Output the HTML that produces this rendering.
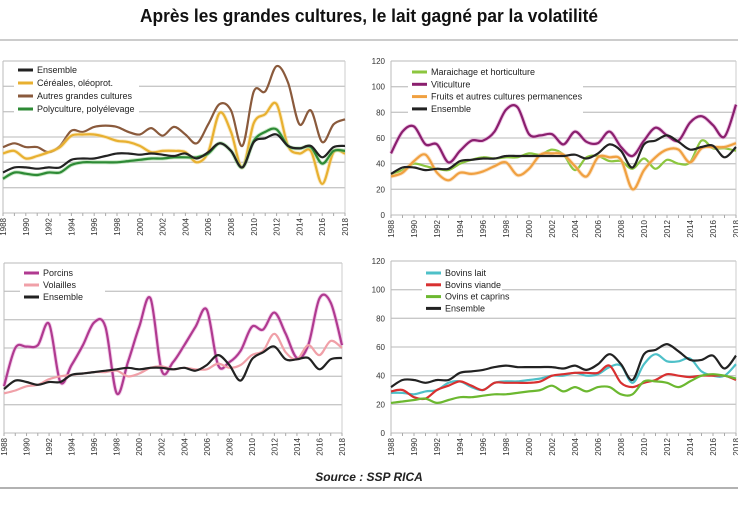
<!DOCTYPE html>
<html><head><meta charset="utf-8"><style>
body{margin:0;background:#fff;width:738px;height:507px;overflow:hidden}
svg{display:block}
text{font-family:"Liberation Sans Narrow","Liberation Sans",sans-serif}
</style></head><body>
<svg id="s" width="738" height="507" viewBox="0 0 738 507" xmlns="http://www.w3.org/2000/svg">
<text x="369" y="22" text-anchor="middle" font-size="18" font-weight="bold" fill="#111" textLength="458" lengthAdjust="spacingAndGlyphs">Après les grandes cultures, le lait gagné par la volatilité</text>
<line x1="0" y1="40" x2="738" y2="40" stroke="#bbb" stroke-width="1.5"/>
<line x1="0" y1="488" x2="738" y2="488" stroke="#999" stroke-width="1.5"/>
<text x="369" y="481" text-anchor="middle" font-size="12" font-weight="bold" font-style="italic" fill="#222">Source : SSP RICA</text>
<g id="g"></g>
</svg>
<script>
var NS="http://www.w3.org/2000/svg",G=document.getElementById("g");
function el(t,a,txt){var e=document.createElementNS(NS,t);for(var k in a)e.setAttribute(k,a[k]);if(txt!=null)e.textContent=txt;G.appendChild(e);return e;}
function smooth(p){var d="M"+p[0][0]+","+p[0][1];for(var i=0;i<p.length-1;i++){var p0=p[i-1]||p[i],p1=p[i],p2=p[i+1],p3=p[i+2]||p2;
var c1=[p1[0]+(p2[0]-p0[0])/6,p1[1]+(p2[1]-p0[1])/6],c2=[p2[0]-(p3[0]-p1[0])/6,p2[1]-(p3[1]-p1[1])/6];
d+="C"+c1[0].toFixed(1)+","+c1[1].toFixed(1)+" "+c2[0].toFixed(1)+","+c2[1].toFixed(1)+" "+p2[0].toFixed(1)+","+p2[1].toFixed(1);}return d;}
function panel(P){
 var xa=P.x0,xb=P.x1,ya=P.y0,yb=P.y120;
 function X(i){return xa+(xb-xa)*i/30;} function Y(v){return ya-(ya-yb)*v/120;}
 for(var v=20;v<=120;v+=20){el("line",{x1:xa,x2:xb,y1:Y(v),y2:Y(v),stroke:"#c8c8c8","stroke-width":1.3});}
 el("line",{x1:xa,x2:xa,y1:Y(120),y2:ya,stroke:"#bbb","stroke-width":1});
 el("line",{x1:xb,x2:xb,y1:Y(120),y2:ya,stroke:"#ccc","stroke-width":1});
 el("line",{x1:xa,x2:xb,y1:ya,y2:ya,stroke:"#bbb","stroke-width":1});
 for(var i=0;i<=30;i++)el("line",{x1:X(i),x2:X(i),y1:ya,y2:ya+3,stroke:"#aaa","stroke-width":1});
 if(P.labels)for(var v=0;v<=120;v+=20)el("text",{x:xa-6,y:Y(v)+3,"text-anchor":"end","font-size":8,fill:"#333"},v);
 for(var i=0;i<=30;i+=2){var x=X(i)+3,y=ya+5;el("text",{x:x,y:y,transform:"rotate(-90 "+x+" "+y+")","text-anchor":"end","font-size":8,fill:"#333"},1988+i);}
 el("rect",{x:P.lx-4,y:P.ly-8,width:P.lw,height:P.s.length*P.ld+4,fill:"#fff"});
 P.s.forEach(function(s,k){var pts=s.d.map(function(v,i){return[X(i),Y(v)];});
  if(s.glow)el("path",{d:smooth(pts),fill:"none",stroke:s.glow,"stroke-width":4,"stroke-opacity":0.5});
  el("path",{d:smooth(pts),fill:"none",stroke:s.c,"stroke-width":2.2,"stroke-linejoin":"round"});});
 var L=P.order?P.order.map(function(i){return P.s[i];}):P.s;
 L.forEach(function(s,k){var y=P.ly+k*P.ld;
  el("line",{x1:P.lx,x2:P.lx+15,y1:y,y2:y,stroke:s.c,"stroke-width":3});
  el("text",{x:P.lx+19,y:y+3,"font-size":9,fill:"#222"},s.n);});
}
panel({x0:3,x1:345,y0:213,y120:61,labels:false,lx:18,ly:70,ld:13,lw:125,order:[3,1,0,2],s:[
{n:"Autres grandes cultures",c:"#8a5a3c",d:[52,55,52,52,48,53,65,64,68,69,68,64,62,67,61,68,62,55,70,86,81,53,96,96,116,103,70,81,56,70,74]},
{n:"Céréales, oléoprot.",c:"#e8b030",glow:"#f5d890",d:[47,49,43,45,48,52,61,62,62,60,57,56,53,48,49,49,48,40,48,79,64,36,71,78,86,53,47,49,23,48,47]},
{n:"Polyculture, polyélevage",c:"#2d8a35",glow:"#8fd08a",d:[27,32,31,30,32,32,38,40,40,40,40,41,42,43,43,44,44,44,47,55,49,36,57,64,66,53,51,52,39,49,49]},
{n:"Ensemble",c:"#222",d:[32,36,36,35,36,36,42,43,43,45,47,47,46,47,46,45,47,43,48,55,49,36,56,59,62,53,51,53,44,52,53]}
]});
panel({x0:391,x1:736,y0:215,y120:61,labels:true,lx:412,ly:72,ld:12.3,lw:175,s:[
{n:"Maraichage et horticulture",c:"#8cc63f",d:[32,35,40,38,36,35,40,43,45,44,45,45,48,47,51,47,35,45,46,42,42,36,44,36,43,40,41,58,52,52,50]},
{n:"Viticulture",c:"#8a1f6e",glow:"#e090d0",d:[48,65,69,55,55,41,50,58,58,65,82,84,63,62,63,55,65,57,56,65,53,46,58,68,62,58,72,77,70,61,86]},
{n:"Fruits et autres cultures permanences",c:"#f0a040",glow:"#f8c890",d:[30,33,42,47,33,27,33,32,34,38,41,31,36,47,48,47,38,30,45,45,43,20,35,45,51,51,41,52,53,53,56]},
{n:"Ensemble",c:"#222",d:[32,37,37,35,36,36,42,43,44,44,46,46,46,46,46,46,47,44,48,55,50,37,55,58,62,57,51,53,54,45,53]}
]});
panel({x0:4,x1:342,y0:433,y120:263,labels:false,lx:24,ly:273,ld:12,lw:85,s:[
{n:"Porcins",c:"#b03a90",glow:"#e8a0d8",d:[33,60,61,62,77,36,48,62,78,75,28,50,75,95,44,50,62,75,87,48,50,58,75,73,85,70,53,62,95,92,62]},
{n:"Volailles",c:"#f0a0a8",d:[28,30,33,34,38,40,41,42,43,43,44,40,42,46,47,45,46,45,45,49,46,48,55,58,70,57,52,62,55,65,60]},
{n:"Ensemble",c:"#222",d:[31,37,36,34,36,36,41,42,43,44,45,46,45,46,46,45,46,44,48,55,48,37,52,57,61,52,52,53,45,52,53]}
]});
panel({x0:391,x1:736,y0:433,y120:261,labels:true,lx:426,ly:273,ld:11.8,lw:80,s:[
{n:"Bovins lait",c:"#4ec0c8",d:[28,28,27,29,30,35,36,32,30,35,36,36,37,38,40,40,42,40,41,46,47,35,48,55,50,50,52,43,40,40,48]},
{n:"Bovins viande",c:"#d83030",d:[29,30,25,24,30,33,36,33,30,35,35,35,35,36,40,41,42,42,42,47,35,32,35,37,41,40,39,40,40,40,37]},
{n:"Ovins et caprins",c:"#6cb830",d:[21,22,23,24,21,23,25,25,26,27,27,28,29,30,33,29,32,29,32,32,27,27,36,36,35,32,36,40,41,40,38]},
{n:"Ensemble",c:"#222",d:[32,37,37,35,37,37,42,43,44,46,47,46,46,46,46,45,47,44,48,55,48,37,55,58,62,57,51,51,54,45,54]}
]});
</script>
</body></html>
